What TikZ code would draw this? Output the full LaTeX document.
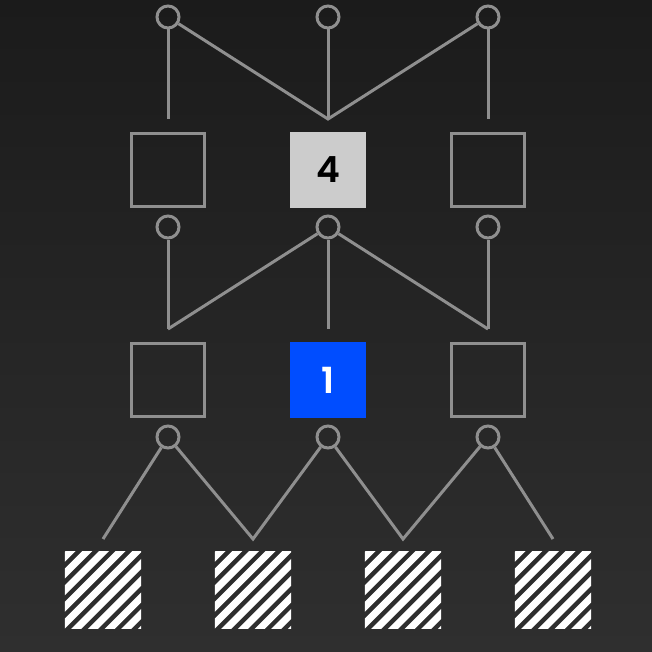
\documentclass[tikz,border=0pt]{standalone}
\usepackage{fontspec}
\newfontfamily\numfont{Poppins}[UprightFont={* SemiBold}]
\begin{document}
\begin{tikzpicture}[x=1pt,y=-1pt]
\definecolor{bgtop}{HTML}{1B1B1B}
\definecolor{bgbot}{HTML}{2F2F2F}
\definecolor{lineg}{HTML}{8F8F8F}
\definecolor{lightbox}{HTML}{CCCCCC}
\definecolor{bluebox}{HTML}{004DFF}
\tikzset{
  ln/.style={draw=lineg, line width=3pt, line join=miter},
  port/.style={circle, draw=lineg, line width=3pt, minimum size=22pt, inner sep=0pt},
  emptybox/.style={rectangle, draw=lineg, line width=3pt, minimum size=73pt, inner sep=0pt},
  solidbox/.style={rectangle, minimum size=76pt, inner sep=0pt, font=\numfont\fontsize{36}{36}\selectfont},
  hatchbox/.style={rectangle, minimum size=76pt, inner sep=0pt},
  stripe/.style={draw=white, line width=7.07pt}
}
\fill[top color=bgtop, bottom color=bgbot] (0,0) rectangle (652,652);
\useasboundingbox (0,0) rectangle (652,652);

% top ports
\node[port] (t1) at (168,17) {};
\node[port] (t2) at (328,17) {};
\node[port] (t3) at (488,17) {};
\coordinate (a1) at (168,119);
\coordinate (a2) at (328,119);
\coordinate (a3) at (488,119);

% row 1 boxes
\node[emptybox] (b1) at (168,170) {};
\node[solidbox, fill=lightbox, text=black] (b2) at (328,170) {4};
\node[emptybox] (b3) at (488,170) {};

% middle ports
\node[port] (m1) at (168,227) {};
\node[port] (m2) at (328,227) {};
\node[port] (m3) at (488,227) {};
\coordinate (c1) at (168,329);
\coordinate (c2) at (328,329);
\coordinate (c3) at (488,329);

% row 2 boxes
\node[emptybox] (d1) at (168,380) {};
\node[solidbox, fill=bluebox, text=white] (d2) at (328,380) {1};
\node[emptybox] (d3) at (488,380) {};

% bottom ports
\node[port] (p1) at (168,437) {};
\node[port] (p2) at (328,437) {};
\node[port] (p3) at (488,437) {};
\coordinate (e1) at (103,539);
\coordinate (e2) at (253,539);
\coordinate (e3) at (403,539);
\coordinate (e4) at (553,539);

% hatched boxes
\foreach \n/\x in {h1/103, h2/253, h3/403, h4/553} {
  \node[hatchbox] (\n) at (\x,590) {};
  \begin{scope}
    \clip (\n.north west) rectangle (\n.south east);
    \begin{scope}[shift={(\n.north west)}]
      \foreach \k in {-1,...,10} {
        \draw[stripe] (5+16.7*\k+60,-60) -- (5+16.7*\k-120,120);
      }
    \end{scope}
  \end{scope}
}

% connectors
\draw[ln] (t1) -- (a1);
\draw[ln] (t2) -- (a2);
\draw[ln] (t3) -- (a3);
\draw[ln] (t1) -- (a2) -- (t3);

\draw[ln] (m1) -- (c1);
\draw[ln] (m2) -- (c2);
\draw[ln] (m3) -- (c3);
\draw[ln] (m2) -- (c1);
\draw[ln] (m2) -- (c3);

\draw[ln] (p1) -- (e1);
\draw[ln] (p1) -- (e2) -- (p2);
\draw[ln] (p2) -- (e3) -- (p3);
\draw[ln] (p3) -- (e4);
\end{tikzpicture}
\end{document}
